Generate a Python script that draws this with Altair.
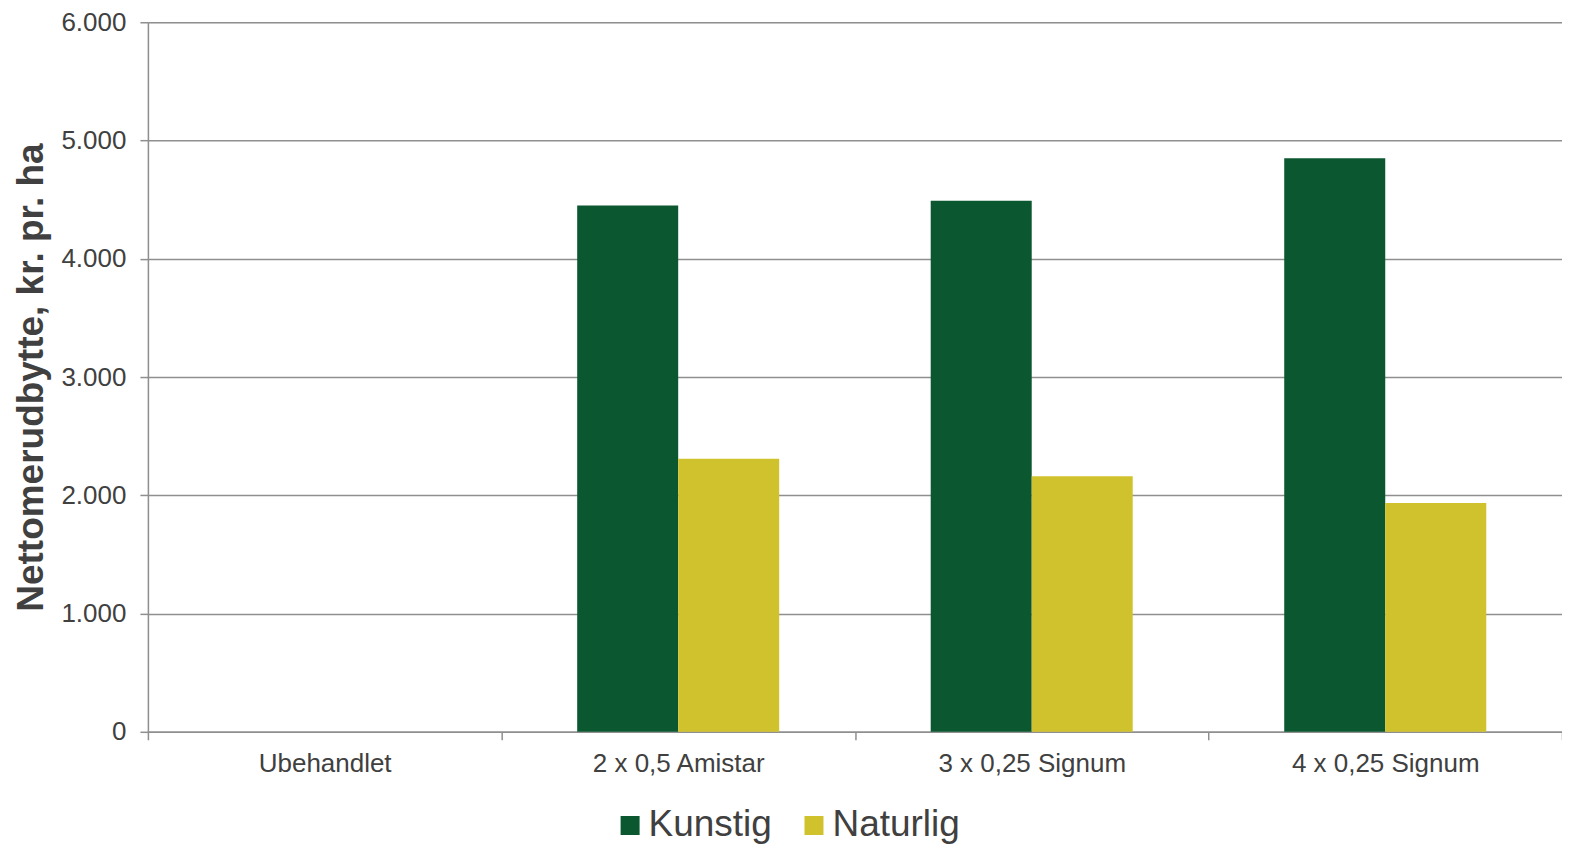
import altair as alt
import pandas as pd

categories = ["Ubehandlet", "2 x 0,5 Amistar", "3 x 0,25 Signum", "4 x 0,25 Signum"]
series = ["Kunstig", "Naturlig"]
kunstig = [0, 4450, 4490, 4850]
naturlig = [0, 2310, 2160, 1935]
colors = ["#0b5730", "#d0c22c"]
y_ticks = [0, 1000, 2000, 3000, 4000, 5000, 6000]

rows = []
for c, k, n in zip(categories, kunstig, naturlig):
    rows.append({"Behandling": c, "Serie": series[0], "Value": k})
    rows.append({"Behandling": c, "Serie": series[1], "Value": n})
df = pd.DataFrame(rows)

FONT = "Liberation Sans"
TXT = "#404040"
GRID = "#8f8f8f"

chart = alt.Chart(df).mark_bar().encode(
    x=alt.X(
        "Behandling:N",
        sort=categories,
        scale=alt.Scale(paddingInner=0, paddingOuter=0),
        axis=alt.Axis(
            title=None, labelAngle=0, tickBand="extent", tickSize=8,
            labelFontSize=26, labelPadding=11, labelColor=TXT, labelFont=FONT,
            labelLimit=1000,
            domainColor=GRID, tickColor=GRID, domainWidth=1.5, tickWidth=1.5, grid=False,
        ),
    ),
    xOffset=alt.XOffset("Serie:N", sort=series, scale=alt.Scale(paddingOuter=0.75, paddingInner=0)),
    y=alt.Y(
        "Value:Q",
        scale=alt.Scale(domain=[0, 6000], nice=False),
        axis=alt.Axis(
            values=y_ticks,
            labelExpr="replace(format(datum.value, ','), ',', '.')",
            title="Nettomerudbytte, kr. pr. ha",
            titleFontSize=37, titleFontWeight="bold", titleFont=FONT, titleColor=TXT,
            titlePadding=10,
            labelFontSize=26, labelPadding=14, labelColor=TXT, labelFont=FONT,
            tickSize=8, tickColor=GRID, tickWidth=1.5,
            domainColor=GRID, domainWidth=1.5,
            gridColor=GRID, gridWidth=1.5,
        ),
    ),
    color=alt.Color(
        "Serie:N",
        sort=series,
        scale=alt.Scale(domain=series, range=colors),
        legend=alt.Legend(
            title=None, orient="none", direction="horizontal",
            legendX=464, legendY=785,
            symbolType="square", symbolSize=361, symbolStrokeWidth=0,
            labelFontSize=37, labelFont=FONT, labelColor=TXT,
            labelOffset=0, columnPadding=23,
        ),
    ),
).properties(
    width=1415,
    height=710,
    padding={"left": 140, "top": 14, "right": 0, "bottom": 112},
    autosize=alt.AutoSizeParams(type="none"),
).configure_view(stroke=None).configure(background="white")

chart.save("out.html", embed_options={"renderer": "svg", "actions": False})
